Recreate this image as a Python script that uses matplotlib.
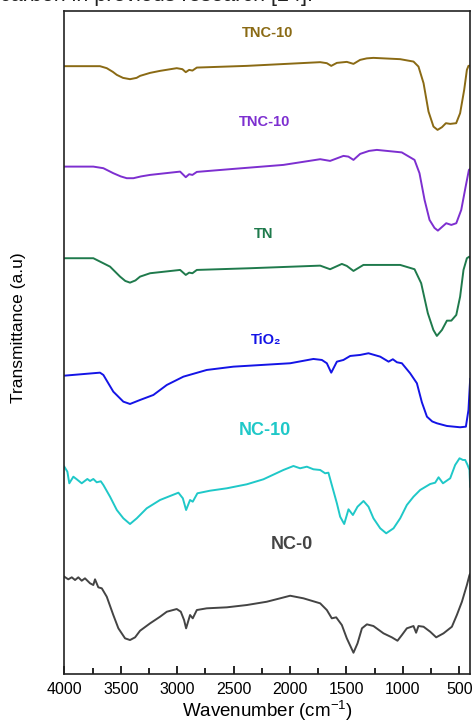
import numpy as np
import matplotlib
matplotlib.use("Agg")
import matplotlib.pyplot as plt
from matplotlib.ticker import MultipleLocator

plt.rcParams["font.family"] = ["Liberation Sans", "DejaVu Sans"]
plt.rcParams["mathtext.default"] = "regular"

# FTIR spectra, already stacked (transmittance in a.u.)
wn_tnc10_top = [4000, 3684, 3624, 3570, 3535, 3480, 3418, 3360, 3329, 3240, 3152, 3004, 2954,
                2924, 2894, 2865, 2826, 2383, 1733, 1674, 1635, 1585, 1497, 1438, 1379, 1320,
                1261, 1024, 906, 862, 817, 773, 729, 693, 654, 619, 581, 528, 493, 457, 433,
                419, 404]
t_tnc10_top = [607.7, 607.7, 605.7, 602, 599, 596, 594.7, 596, 598, 601, 603, 605.7, 604.7,
               601.7, 604, 603.3, 606.3, 608, 611.7, 610.7, 608, 611, 612, 610, 614, 615.5,
               616, 614.7, 612.3, 607.3, 590.7, 562.3, 547.3, 544, 546.7, 550.7, 550, 550.7,
               560.7, 584, 604, 608, 608.3]

wn_tnc10 = [4000, 3743, 3654, 3566, 3500, 3447, 3388, 3320, 3240, 2974, 2924, 2894, 2865, 2826,
            2502, 2059, 1733, 1645, 1527, 1483, 1438, 1379, 1300, 1231, 1010, 897, 853, 808,
            764, 720, 690, 616, 571, 527, 483, 444, 415, 404]
t_tnc10 = [507.3, 507.3, 505.7, 500.7, 497.5, 495.7, 495.7, 497.5, 499, 502.3, 496.7, 499.7,
           499, 502, 505, 509, 514.7, 513, 518, 517.3, 514, 520, 523, 524, 521.5, 514, 500.7,
           474, 454, 446, 443.3, 450.7, 449, 450.7, 464, 487.3, 504, 505]

wn_tn = [4000, 3743, 3713, 3595, 3506, 3460, 3418, 3370, 3329, 3240, 2974, 2924, 2894, 2865,
         2826, 2354, 1733, 1645, 1541, 1497, 1438, 1350, 1024, 897, 838, 779, 730, 699, 654,
         610, 571, 527, 493, 463, 433, 411, 404]
t_tn = [415.7, 415.7, 414, 407.3, 397.3, 393, 391.3, 393.5, 397.3, 400.7, 404, 399, 401.3,
        400.7, 404, 405.7, 408.3, 404.7, 410, 408, 403, 409, 409, 404.7, 390.7, 360.7, 344,
        338, 344, 353.3, 353.3, 359, 377.3, 404, 415.7, 417.3, 416]

wn_tio2 = [4000, 3684, 3654, 3566, 3477, 3418, 3329, 3211, 3092, 2945, 2738, 2502, 1999, 1793,
           1718, 1674, 1635, 1585, 1527, 1467, 1379, 1305, 1201, 1127, 1089, 1053, 1009, 936,
           876, 832, 787, 740, 699, 610, 493, 442, 419, 404]
t_tio2 = [298.3, 301.3, 299, 282.3, 272.3, 270, 274, 279, 289, 297.3, 304, 307.3, 310.7, 315,
          314, 310.7, 301.3, 312.3, 314, 318, 319, 320.7, 317.3, 312.3, 314.7, 311.7, 310.7,
          300.7, 290.7, 271.7, 257.3, 252.5, 250.7, 248, 246.7, 247.3, 264, 295]

wn_nc10 = [4000, 3973, 3956, 3920, 3890, 3846, 3796, 3772, 3743, 3713, 3677, 3654, 3595, 3535,
           3477, 3418, 3358, 3270, 3152, 3092, 2989, 2950, 2921, 2886, 2862, 2821, 2709, 2560,
           2383, 2236, 2059, 1970, 1911, 1851, 1793, 1733, 1689, 1660, 1630, 1585, 1556, 1520,
           1482, 1443, 1402, 1349, 1305, 1261, 1201, 1148, 1083, 1024, 965, 906, 847, 758, 714,
           684, 645, 581, 537, 498, 468, 448, 427, 410, 404]
t_nc10 = [207.3, 202.3, 190.7, 197.3, 194.7, 190.7, 195, 193, 195, 191.7, 192.7, 189, 177.3, 164,
          155.7, 150, 155.7, 165.7, 174, 176.7, 181.3, 175.7, 164, 174, 172.3, 180.7, 183.3, 185.7,
          189.7, 194.7, 204, 208, 205.7, 207.3, 204.7, 204, 200.7, 201.3, 189, 170.7, 157.3, 150,
          164.7, 159, 167.3, 173, 167.3, 155.7, 145.7, 140.7, 145.7, 155.7, 169, 177.3, 184, 190,
          191.3, 196.7, 190.7, 195.7, 209, 215.7, 214, 214, 209, 204, 187.3]

wn_nc0 = [4000, 3965, 3934, 3905, 3876, 3846, 3817, 3772, 3743, 3728, 3699, 3668, 3624, 3566,
          3521, 3462, 3418, 3373, 3329, 3240, 3152, 3092, 3004, 2968, 2939, 2921, 2886, 2862,
          2826, 2738, 2560, 2383, 2206, 2088, 1999, 1881, 1733, 1674, 1630, 1591, 1541, 1497,
          1438, 1402, 1363, 1319, 1261, 1172, 1098, 1048, 1009, 965, 906, 883, 862, 817, 758,
          705, 640, 566, 522, 477, 433, 410, 404]
t_nc0 = [97.3, 94.7, 96.7, 94, 96.7, 93.3, 95.7, 90.7, 89, 94.7, 86.7, 85.7, 77.3, 59, 45.7, 35.7,
         34, 36.7, 43.3, 50.7, 57.3, 62.3, 65, 62.3, 54, 45.7, 59, 55.7, 64, 65.7, 66.7, 69, 72.3,
         75.7, 78.3, 75.7, 70.7, 64, 55.7, 56.7, 49, 35.7, 21.3, 30.7, 45.7, 49.7, 48, 40.7, 36.7,
         33.3, 39, 45.7, 48, 41.3, 48, 47.3, 42.3, 36.7, 40.7, 47.3, 59, 72.3, 89, 99, 100]

labels = ["TNC-10", "TNC-10", "TN", "TiO\u2082", "NC-10", "NC-0"]
colors = ["#8a6a14", "#7d2fd0", "#1f7a4c", "#1414e6", "#1fc8c8", "#444444"]
spectra = [(wn_tnc10_top, t_tnc10_top), (wn_tnc10, t_tnc10), (wn_tn, t_tn),
           (wn_tio2, t_tio2), (wn_nc10, t_nc10), (wn_nc0, t_nc0)]

# label positions (wavenumber, a.u.) and sizes
label_pos = [(2200, 641), (2230, 552), (2230, 440), (2210, 334), (2220, 243), (1980, 130)]
label_size = [10.5, 10.5, 10.5, 10.5, 13, 13]

fig = plt.figure(figsize=(4.73, 7.24), dpi=100)
ax = fig.add_axes([0.136, 0.069, 0.858, 0.916])

for (wn, t), c in zip(spectra, colors):
    ax.plot(wn, t, color=c, lw=1.4, solid_joinstyle="round")

for lab, (x, y), c, fs in zip(labels, label_pos, colors, label_size):
    ax.text(x, y, lab, color=c, fontsize=fs, fontweight="bold", ha="center", va="center")

ax.set_xlim(4000, 404)
ax.set_ylim(0, 663)
ax.set_yticks([])
ax.xaxis.set_major_locator(MultipleLocator(500))
ax.xaxis.set_minor_locator(MultipleLocator(250))
ax.tick_params(axis="x", which="major", direction="in", length=6, width=1.2, labelsize=11.5, pad=6)
ax.tick_params(axis="x", which="minor", direction="in", length=4, width=1.2)
for s in ax.spines.values():
    s.set_linewidth(1.2)
    s.set_color("#222222")

ax.set_xlabel("Wavenumber (cm$^{-1}$)", fontsize=13.5, labelpad=1)
ax.set_ylabel("Transmittance (a.u)", fontsize=12.5, ha="center", va="center")
ax.yaxis.set_label_coords(-0.112, 0.522)

# clipped line of surrounding text at the top of the screenshot
fig.text(0.0, 1 - 1.5 / 724, "carbon in previous research [24].", fontsize=15.5, ha="left",
         va="baseline", color="#222222")

fig.savefig("out.png", dpi=100)
